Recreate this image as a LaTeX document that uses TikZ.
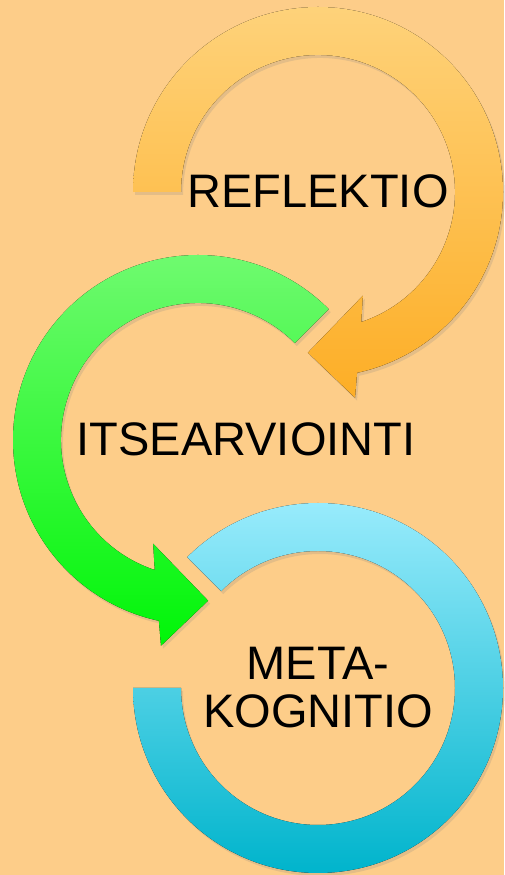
\documentclass[tikz,border=0pt]{standalone}
\usepackage{fontspec}
\setmainfont{Liberation Sans}
\usepackage{tikz}
\usetikzlibrary{shadows}
\definecolor{bgpeach}{RGB}{253,205,137}
\definecolor{orangetop}{RGB}{254,210,122}
\definecolor{orangebot}{RGB}{253,174,38}
\definecolor{greentop}{RGB}{116,250,116}
\definecolor{greenbot}{RGB}{0,246,8}
\definecolor{bluetop}{RGB}{152,235,252}
\definecolor{bluebot}{RGB}{0,180,204}
\tikzstyle{ring_o} = [top color=orangetop, bottom color=orangebot,
drop shadow={opacity=0.2, shadow xshift=2pt, shadow yshift=-3pt}]
\tikzstyle{ring_g} = [top color=greentop, bottom color=greenbot,
drop shadow={opacity=0.2, shadow xshift=2pt, shadow yshift=-3pt}]
\tikzstyle{ring_b} = [top color=bluetop, bottom color=bluebot,
drop shadow={opacity=0.2, shadow xshift=2pt, shadow yshift=-3pt}]
\tikzstyle{ringtext} = [inner sep=0pt, align=center, text=black,
font=\fontsize{47}{48}\selectfont]

\begin{document}
\begin{tikzpicture}[x=1pt, y=1pt]

\fill [bgpeach] (0,0) rectangle (504,875);
\useasboundingbox (0,0) rectangle (504,875);

% reflektio
\begin{scope}[shift={(318,683)}]
\fill [ring_o] (180:185) arc[start angle=180, end angle=-77.8, radius=185]
  -- (-79.8:209) -- (-93.6:161) -- (-66.6:113) -- (-71.6:137)
  arc[start angle=-71.6, end angle=180, radius=137] -- cycle;
\end{scope}

% itsearviointi
\begin{scope}[shift={(198,435)}]
\fill [ring_g] (45:185) arc[start angle=45, end angle=257.8, radius=185]
  -- (259.8:209) -- (273.6:161) -- (246.6:113) -- (251.6:137)
  arc[start angle=251.6, end angle=45, radius=137] -- cycle;
\end{scope}

% metakognitio
\begin{scope}[shift={(318,187)}]
\fill [ring_b] (180:185) arc[start angle=180, end angle=495, radius=185]
  -- (495:137) arc[start angle=495, end angle=180, radius=137] -- cycle;
\end{scope}

\node [ringtext] (t1) at (318,684) {REFLEKTIO};
\node [ringtext] (t2) at (246,436) {ITSEARVIOINTI};
\node [ringtext] (t3) at (318,187) {META-\\KOGNITIO};

\end{tikzpicture}
\end{document}
